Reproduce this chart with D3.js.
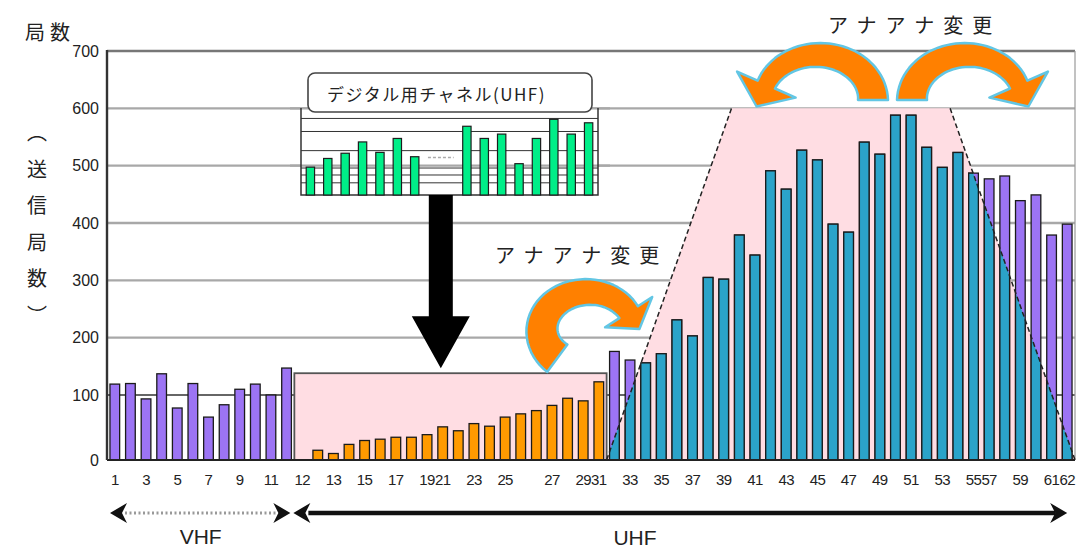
<!DOCTYPE html>
<html><head><meta charset="utf-8">
<script src="https://cdn.jsdelivr.net/npm/d3@7"></script>
<style>body{margin:0;background:#fff} svg{display:block}</style>
</head><body>
<svg id="c" width="1083" height="551"></svg>
<script>
// ---------- data ----------
const vhfValues = [119,120,94,137,80,120,66,85,110,119,100,147];               // ch 1-12 (VHF)
const uhfLowValues = [15,10,24,30,32,35,35,39,51,45,56,52,66,71,76,84,95,91,123]; // UHF analog, digital-use band
const uhfHighValues = [176,161,156,172,231,203,305,302,379,344,491,459,527,510,398,384,
                       541,520,588,588,532,497,523,487,477,482,439,449,379,398];   // UHF analog, upper band
const slotCount = 62;
const yTicks = [0,100,200,300,400,500,600,700];
const xTickSlots  = [0,2,4,6,8,10,12,14,16,18,20,21,23,25,28,30,31,33,35,37,39,41,43,45,47,49,51,53,55,56,58,60,61];
const xTickLabels = ["1","3","5","7","9","11","12","13","15","17","19","21","23","25","27","29",
                     "31","33","35","37","39","41","43","45","47","49","51","53","55","57","59","61","62"];
const digitalBoxTop = 138;                                  // pink box (value units)
const digitalZone = [[32,0],[40,600],[54,600],[62,0]];      // [slot edge, value]
const miniValues = [32,42,48,61,49,65,44,null,null,79,65,70,36,65,87,70,83];
const miniGrid = [14,23,31,51,73,88];
const titleText = "局数";
const yAxisText = "︵送信局数︶";
const insetTitle = "デジタル用チャネル(UHF)";
const changeText = "アナアナ変更";

// ---------- setup ----------
const svg = d3.select("#c");
const JP = "'Noto Sans CJK JP', sans-serif";
const NUM = "'Liberation Sans', Arial, sans-serif";
const L = 107, R = 1075;
const x = d3.scaleBand().domain(d3.range(slotCount)).range([L, R]).paddingInner(0.38).paddingOuter(0.19);
const edgeX = s => L + x.step() * s;
const y = d3.scaleLinear().domain([0,100,700]).range([460,395,51]);

// bar table
const bars = [];
vhfValues.forEach((v,i)=>bars.push({slot:i, value:v, kind:"vhf"}));
const lowStart = vhfValues.length + 1;
uhfLowValues.forEach((v,i)=>bars.push({slot:lowStart+i, value:v, kind:"low"}));
const highStart = lowStart + uhfLowValues.length;
uhfHighValues.forEach((v,i)=>bars.push({slot:highStart+i, value:v, kind:"high"}));
const colors = {vhf:"#9c74f4", low:"#ff9a00", high:"#9c74f4"};
const teal = "#2ba3c9";

// gridlines
svg.append("g").selectAll("line").data(yTicks.filter(t=>t>0 && t<700)).join("line")
  .attr("x1", L).attr("x2", R).attr("y1", d=>y(d)).attr("y2", d=>y(d))
  .attr("stroke", d=> d===100 ? "#333" : "#a8a8a8").attr("stroke-width", d=> d===100 ? 1.6 : 2.4);

// pink regions
svg.append("rect").attr("x", edgeX(lowStart-1)).attr("y", y(digitalBoxTop))
  .attr("width", edgeX(highStart)-edgeX(lowStart-1)).attr("height", y(0)-y(digitalBoxTop))
  .attr("fill", "#ffdde3").attr("stroke", "#555").attr("stroke-width", 1.8);
const zonePts = digitalZone.map(([s,v])=>[edgeX(s), y(v)]);
svg.append("polygon").attr("points", zonePts.map(p=>p.join(",")).join(" ")).attr("fill", "#ffdde3");
svg.append("defs").append("clipPath").attr("id","zone")
  .append("polygon").attr("points", zonePts.map(p=>p.join(",")).join(" "));

// frame
svg.append("line").attr("x1", L).attr("x2", R).attr("y1", y(700)).attr("y2", y(700)).attr("stroke", "#777").attr("stroke-width", 2.6);
svg.append("line").attr("x1", R).attr("x2", R).attr("y1", y(700)).attr("y2", y(0)).attr("stroke", "#999").attr("stroke-width", 1.2);

// bars
svg.append("g").selectAll("rect").data(bars).join("rect")
  .attr("x", d=>x(d.slot)).attr("width", x.bandwidth())
  .attr("y", d=>y(d.value)).attr("height", d=>y(0)-y(d.value))
  .attr("fill", d=>colors[d.kind]).attr("stroke", "#1b1b1b").attr("stroke-width", 1.3);
svg.append("g").attr("clip-path","url(#zone)").selectAll("rect").data(bars.filter(d=>d.kind==="high")).join("rect")
  .attr("x", d=>x(d.slot)).attr("width", x.bandwidth())
  .attr("y", d=>y(d.value)).attr("height", d=>y(0)-y(d.value))
  .attr("fill", teal).attr("stroke", "#1b1b1b").attr("stroke-width", 1.3);

// dashed zone edges
[[0,1],[2,3]].forEach(([a,b])=>{
  svg.append("line").attr("x1", zonePts[a][0]).attr("y1", zonePts[a][1]).attr("x2", zonePts[b][0]).attr("y2", zonePts[b][1])
    .attr("stroke", "#222").attr("stroke-width", 1.5).attr("stroke-dasharray", "5,3");
});

// axes lines
svg.append("line").attr("x1", L).attr("x2", R).attr("y1", y(0)).attr("y2", y(0)).attr("stroke", "#222").attr("stroke-width", 2.2);
svg.append("line").attr("x1", L).attr("x2", L).attr("y1", y(700)-1).attr("y2", y(0)).attr("stroke", "#333").attr("stroke-width", 2.4);

// y axis labels
const ya = svg.append("g").attr("transform", `translate(${L},0)`)
  .call(d3.axisLeft(y).tickValues(yTicks).tickSize(0).tickPadding(8).tickFormat(d3.format("d")));
ya.select(".domain").remove();
ya.selectAll("text").attr("font-family", NUM).attr("font-size", 16).attr("fill", "#222");

// x axis labels
const labelOf = new Map(xTickSlots.map((s,i)=>[s, xTickLabels[i]]));
const xa = svg.append("g").attr("transform", `translate(0,${y(0)})`)
  .call(d3.axisBottom(x).tickValues(xTickSlots).tickSize(0).tickPadding(14).tickFormat(d=>labelOf.get(d)));
xa.select(".domain").remove();
xa.selectAll("text").attr("font-family", NUM).attr("font-size", 15).attr("fill", "#222").attr("letter-spacing", -0.6);

// title and vertical y label
svg.append("text").attr("x", 25).attr("y", 40).attr("font-family", JP).attr("font-size", 20)
  .attr("letter-spacing", 5).attr("fill", "#222").text(titleText);
svg.append("g").selectAll("text").data(Array.from(yAxisText)).join("text")
  .attr("x", 37).attr("y", (d,i)=>140 + i*36.5).attr("text-anchor","middle")
  .attr("font-family", JP).attr("font-size", 20).attr("fill", "#222").text(d=>d);

// band arrows below axis
const arrowY = 513;
function head(tx, dir){ // dir -1 = pointing left, +1 right
  const p = [[tx,arrowY],[tx-dir*17,arrowY-10],[tx-dir*12,arrowY],[tx-dir*17,arrowY+10]];
  svg.append("polygon").attr("points", p.map(q=>q.join(",")).join(" ")).attr("fill","#111");
}
svg.append("line").attr("x1", edgeX(0)+18).attr("x2", edgeX(lowStart-1)-18).attr("y1", arrowY).attr("y2", arrowY)
  .attr("stroke", "#999").attr("stroke-width", 3).attr("stroke-dasharray", "2,2.5");
head(edgeX(0)+3, -1); head(edgeX(lowStart-1)-4, 1);
svg.append("line").attr("x1", edgeX(lowStart-1)+14).attr("x2", x(slotCount-1)+x.bandwidth()/2-12).attr("y1", arrowY).attr("y2", arrowY)
  .attr("stroke", "#111").attr("stroke-width", 4.5);
head(edgeX(lowStart-1)-1, -1); head(x(slotCount-1)+x.bandwidth()/2, 1);
svg.append("text").attr("x", (edgeX(0)+edgeX(lowStart-1))/2).attr("y", 544).attr("text-anchor","middle")
  .attr("font-family", NUM).attr("font-size", 21).attr("fill","#222").text("VHF");
svg.append("text").attr("x", 635).attr("y", 545).attr("text-anchor","middle")
  .attr("font-family", NUM).attr("font-size", 21).attr("fill","#222").text("UHF");

// ---------- inset mini chart ----------
const mx = d3.scaleBand().domain(d3.range(miniValues.length)).range([301, 598]).paddingInner(0.52).paddingOuter(0.3);
const my = d3.scaleLinear().domain([0,100]).range([195,108]);
svg.append("rect").attr("x", 301).attr("y", my(100)).attr("width", 297).attr("height", my(0)-my(100)).attr("fill","#fff");
svg.append("line").attr("x1", 290).attr("x2", 610).attr("y1", y(600)).attr("y2", y(600)).attr("stroke","#a8a8a8").attr("stroke-width",2.4);
svg.append("line").attr("x1", 290).attr("x2", 610).attr("y1", y(500)).attr("y2", y(500)).attr("stroke","#a8a8a8").attr("stroke-width",2.4);
svg.append("g").selectAll("line").data(miniGrid).join("line")
  .attr("x1", 301).attr("x2", 598).attr("y1", d=>my(d)).attr("y2", d=>my(d)).attr("stroke","#333").attr("stroke-width",1);
svg.append("line").attr("x1", mx(7)).attr("x2", mx(8)+mx.bandwidth()).attr("y1", my(43)).attr("y2", my(43))
  .attr("stroke","#aaa").attr("stroke-width",1.5).attr("stroke-dasharray","3,2");
svg.append("path").attr("d", `M301,${my(100)}V${my(0)}H598V${my(100)}`).attr("fill","none").attr("stroke","#333").attr("stroke-width",1.5);
svg.append("g").selectAll("rect").data(miniValues.map((v,i)=>({i,v})).filter(d=>d.v!==null)).join("rect")
  .attr("x", d=>mx(d.i)).attr("width", mx.bandwidth()).attr("y", d=>my(d.v)).attr("height", d=>my(0)-my(d.v))
  .attr("fill","#00ee88").attr("stroke","#1d1d1d").attr("stroke-width",1.2);
// inset title box
svg.append("rect").attr("x",308).attr("y",73).attr("width",284).attr("height",39).attr("rx",7)
  .attr("fill","#fff").attr("stroke","#444").attr("stroke-width",1.6);
svg.append("text").attr("x",327).attr("y",101).attr("font-family",JP).attr("font-size",17).attr("letter-spacing",1.5)
  .attr("fill","#222").text(insetTitle);

// big black arrow from inset to box
const ax = (mx(7)+mx(8)+mx.bandwidth())/2, tipY = y(digitalBoxTop)-5;
svg.append("polygon").attr("points", [
  [ax-12, my(0)],[ax+12, my(0)],[ax+12, tipY-52],[ax+29, tipY-52],[ax, tipY],[ax-29, tipY-52],[ax-12, tipY-52]
].map(p=>p.join(",")).join(" ")).attr("fill","#000");

// ---------- curved orange arrows ----------
function arcArrow(cx, cy, rx, ry, a0, a1, w0, w1, headW, headL){
  const n = 40, left = [], right = [];
  const rad = Math.PI/180, sgn = Math.sign(a1-a0);
  const pt = t => [cx + rx*Math.cos(t*rad), cy - ry*Math.sin(t*rad)];
  const tan = t => { const dx = -rx*Math.sin(t*rad)*sgn, dy = -ry*Math.cos(t*rad)*sgn; const l = Math.hypot(dx,dy); return [dx/l, dy/l]; };
  for (let k=0;k<=n;k++){
    const t = a0 + (a1-a0)*k/n, w = w0 + (w1-w0)*k/n, p = pt(t), d = tan(t), nr = [-d[1], d[0]];
    left.push([p[0]+nr[0]*w/2, p[1]+nr[1]*w/2]); right.push([p[0]-nr[0]*w/2, p[1]-nr[1]*w/2]);
  }
  const pe = pt(a1), de = tan(a1), ne = [-de[1], de[0]];
  const poly = [...left,
    [pe[0]+ne[0]*headW/2, pe[1]+ne[1]*headW/2],
    [pe[0]+de[0]*headL, pe[1]+de[1]*headL],
    [pe[0]-ne[0]*headW/2, pe[1]-ne[1]*headW/2],
    ...right.reverse()];
  svg.append("polygon").attr("points", poly.map(p=>p.map(v=>v.toFixed(1)).join(",")).join(" "))
    .attr("fill","#ff8000").attr("stroke","#62c6e4").attr("stroke-width",2.5).attr("stroke-linejoin","round");
}
arcArrow(818, 100, 55, 45, 0, 160, 30, 19, 64, 24);
arcArrow(967, 100, 55, 45, 180, 20, 30, 19, 64, 24);
arcArrow(588, 330, 46, 38, 228, 28, 34, 22, 56, 20);

svg.append("text").attr("x",828).attr("y",33).attr("font-family",JP).attr("font-size",20).attr("letter-spacing",9)
  .attr("fill","#222").text(changeText);
svg.append("text").attr("x",495).attr("y",263).attr("font-family",JP).attr("font-size",20).attr("letter-spacing",9)
  .attr("fill","#222").text(changeText);
</script>
</body></html>
